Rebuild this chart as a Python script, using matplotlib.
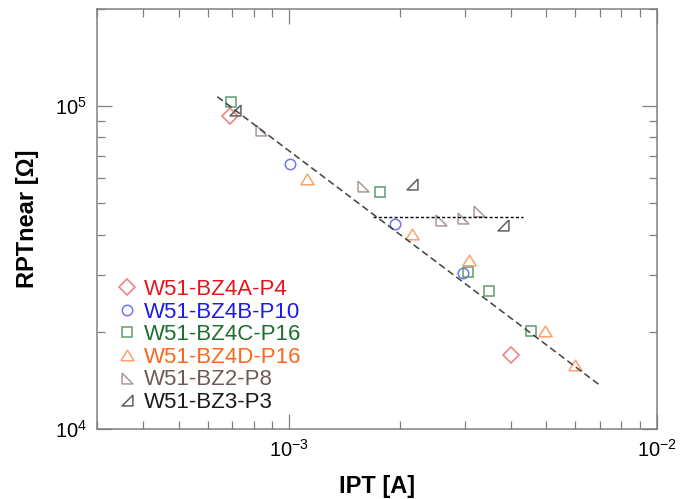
import matplotlib.pyplot as plt
from matplotlib.ticker import LogLocator, NullFormatter

plt.rcParams["font.family"] = ["Liberation Sans", "DejaVu Sans"]
plt.rcParams["mathtext.fontset"] = "custom"
plt.rcParams["mathtext.rm"] = "Liberation Sans"
plt.rcParams["mathtext.it"] = "Liberation Sans:italic"
plt.rcParams["mathtext.bf"] = "Liberation Sans:bold"

# IPT [A] and RPTnear [Ohm] per wafer / pixel
bz4a_ipt = [6.89e-4, 4.01e-3]
bz4a_rpt = [9.35e4, 1.69e4]

bz4b_ipt = [1.006e-3, 1.94e-3, 2.97e-3]
bz4b_rpt = [6.63e4, 4.33e4, 3.04e4]

bz4c_ipt = [6.94e-4, 1.76e-3, 3.07e-3, 3.50e-3, 4.55e-3]
bz4c_rpt = [1.027e5, 5.44e4, 3.06e4, 2.68e4, 2.01e4]

bz4d_ipt = [1.117e-3, 2.15e-3, 3.09e-3, 4.97e-3, 5.99e-3]
bz4d_rpt = [5.93e4, 4.03e4, 3.33e4, 2.01e4, 1.58e4]

bz2_ipt = [8.39e-4, 1.586e-3, 2.59e-3, 2.96e-3, 3.28e-3]
bz2_rpt = [8.44e4, 5.67e4, 4.45e4, 4.51e4, 4.72e4]

bz3_ipt = [7.10e-4, 2.16e-3, 3.81e-3]
bz3_rpt = [9.75e4, 5.72e4, 4.27e4]

# power-law fit and saturation level
fit_ipt = [6.37e-4, 7.03e-3]
fit_rpt = [1.07e5, 1.36e4]
sat_ipt = [1.69e-3, 4.31e-3]
sat_rpt = [4.55e4, 4.55e4]

labels = ["W51-BZ4A-P4", "W51-BZ4B-P10", "W51-BZ4C-P16",
          "W51-BZ4D-P16", "W51-BZ2-P8", "W51-BZ3-P3"]

tri_ll = [(-1, 1), (-1, -1), (1, -1), (-1, 1)]
tri_lr = [(1, 1), (1, -1), (-1, -1), (1, 1)]
tri_up = [(-1, -0.8), (1, -0.8), (0, 0.8), (-1, -0.8)]

series = [
    (bz4a_ipt, bz4a_rpt, "D", 8.0, "#f07c7c", "#e8141c"),
    (bz4b_ipt, bz4b_rpt, "o", 7.5, "#7474ee", "#1c1ce6"),
    (bz4c_ipt, bz4c_rpt, "s", 7.8, "#5c9c6c", "#1e6e2e"),
    (bz4d_ipt, bz4d_rpt, tri_up, 9.5, "#ffa06c", "#ff6619"),
    (bz2_ipt, bz2_rpt, tri_ll, 7.8, "#a89a96", "#6e5a52"),
    (bz3_ipt, bz3_rpt, tri_lr, 7.8, "#606060", "#1a1a1a"),
]

fig = plt.figure(figsize=(6.91, 4.99), dpi=100)
ax = fig.add_axes([0.1404, 0.1403, 0.8104, 0.8417])

for (xs, ys, mk, ms, mc, tc), lab in zip(series, labels):
    ax.plot(xs, ys, linestyle="none", marker=mk, markersize=ms,
            markerfacecolor="none", markeredgecolor=mc,
            markeredgewidth=1.1, label=lab)

ax.plot(fit_ipt, fit_rpt, color="#404040", lw=1.1, dashes=(4.5, 2.5))
ax.plot(sat_ipt, sat_rpt, color="black", lw=1.0, dashes=(2.2, 1.6))

ax.set_xscale("log")
ax.set_yscale("log")
ax.set_xlim(3e-4, 1e-2)
ax.set_ylim(1e4, 2e5)

ax.xaxis.set_major_locator(LogLocator(base=10))
ax.yaxis.set_major_locator(LogLocator(base=10))
ax.xaxis.set_minor_locator(LogLocator(base=10, subs=range(2, 10)))
ax.yaxis.set_minor_locator(LogLocator(base=10, subs=range(2, 10)))
ax.xaxis.set_minor_formatter(NullFormatter())
ax.yaxis.set_minor_formatter(NullFormatter())

ax.tick_params(which="both", direction="in", top=True, right=True,
               color="#808080", width=0.9, labelsize=14.5, pad=7)
ax.tick_params(which="major", length=11)
ax.tick_params(which="minor", length=5.5)
for sp in ax.spines.values():
    sp.set_color("#808080")
    sp.set_linewidth(1.1)

ax.set_xlabel("IPT [A]", fontsize=17, fontweight="bold", labelpad=10)
ax.set_ylabel("RPTnear [\u03a9]", fontsize=17, fontweight="bold", labelpad=12)

leg = ax.legend(loc="lower left", bbox_to_anchor=(0.0, -0.012), frameon=False,
                fontsize=16, labelspacing=0.07, handlelength=0.8,
                handletextpad=0.37, borderaxespad=0.55,
                labelcolor=[s[5] for s in series])

fig.savefig("out.png", dpi=100)
